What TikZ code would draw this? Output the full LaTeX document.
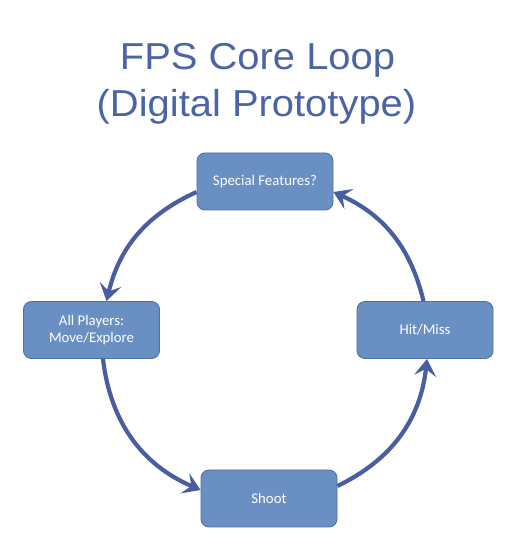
\documentclass[tikz,border=0pt]{standalone}
\usepackage{fontspec}
\usepackage{graphicx}
\setmainfont{Liberation Sans}
\newfontfamily\boxfont{Carlito}
\usetikzlibrary{arrows.meta}
\definecolor{titleblue}{RGB}{74,100,165}
\definecolor{boxfill}{RGB}{106,143,194}
\definecolor{boxline}{RGB}{78,112,164}
\definecolor{arrowblue}{RGB}{72,94,160}
\tikzset{
  stepbox/.style={draw=boxline, line width=0.9bp, fill=boxfill, rounded corners=8bp,
    minimum width=136bp, minimum height=57bp, inner sep=0pt, align=center,
    text=white, font=\boxfont\fontsize{14.8bp}{17bp}\selectfont},
  loop/.style={draw=arrowblue, line width=4.2bp,
    -{Stealth[length=17bp,width=22bp,inset=7bp]}},
  titletext/.style={text=titleblue, inner sep=0pt, anchor=base,
    font=\fontsize{37.5bp}{45bp}\selectfont}
}
\begin{document}
\begin{tikzpicture}[x=1bp,y=1bp]
\useasboundingbox (0,0) rectangle (522,554);
\node[titletext] (t1) at (257.5,484.5) {\scalebox{1.065}[1]{FPS Core Loop}};
\node[titletext] (t2) at (256.5,437) {\scalebox{1.065}[1]{(Digital Prototype)}};
\node[stepbox] (sf) at (265,372.5) {Special Features?};
\node[stepbox] (ap) at (91.5,224) {All Players:\\Move/Explore};
\node[stepbox] (hm) at (425,224) {Hit/Miss};
\node[stepbox] (sh) at (269,55.5) {Shoot};
\draw[loop] ([yshift=-10.5bp]sf.west) to[bend right=26] ([xshift=15bp]ap.north);
\draw[loop] ([xshift=11.5bp]ap.south) to[bend right=30] ([yshift=8.5bp]sh.west);
\draw[loop] ([yshift=12.5bp]sh.east) to[bend right=29] ([xshift=2bp]hm.south);
\draw[loop] ([xshift=-1.5bp]hm.north) to[bend right=26] ([yshift=-10.5bp]sf.east);
\end{tikzpicture}
\end{document}
